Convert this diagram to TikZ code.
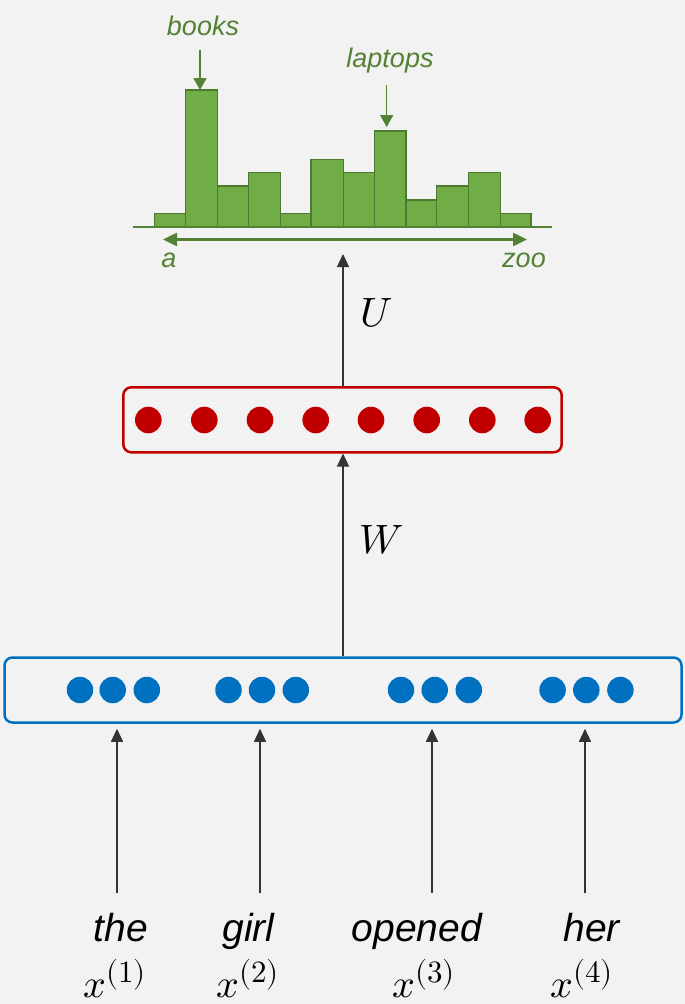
\documentclass[tikz,border=0pt]{standalone}
\usepackage{fontspec}
\usepackage{unicode-math}
\setmainfont{Liberation Sans}
\setmathfont{Latin Modern Math}
\DeclareMathSizes{40}{40}{31}{25}
\usetikzlibrary{arrows.meta}
\definecolor{bg}{HTML}{F2F2F2}
\definecolor{hgreen}{HTML}{548235}
\definecolor{barfill}{HTML}{70AD47}
\definecolor{barline}{HTML}{4E7A30}
\definecolor{hred}{HTML}{C00000}
\definecolor{hblue}{HTML}{0070C0}
\begin{document}
\begin{tikzpicture}[x=1pt,y=-1pt,
  word/.style={font=\fontsize{39}{47}\selectfont\itshape, anchor=base, inner sep=0pt},
  glab/.style={font=\fontsize{27}{32}\selectfont\itshape, text=hgreen, anchor=base, inner sep=0pt},
  mlab/.style={font=\fontsize{41}{49}\selectfont, anchor=base, inner sep=0pt},
  xlab/.style={font=\fontsize{40}{48}\selectfont, anchor=base, inner sep=0pt},
  arr/.style={-{Triangle[length=13pt,width=12pt]}, line width=1.3pt, draw=black!80},
  garr/.style={-{Triangle[length=12pt,width=13pt]}, line width=1.5pt, draw=hgreen, fill=hgreen},
  dgarr/.style={{Triangle[length=14pt,width=13pt]}-{Triangle[length=14pt,width=13pt]}, line width=2.5pt, draw=hgreen, fill=hgreen},
  bar/.style={fill=barfill, draw=barline, line width=1.4pt},
  rdot/.style={circle, fill=hred, minimum size=26.6pt, inner sep=0pt},
  bdot/.style={circle, fill=hblue, minimum size=26.5pt, inner sep=0pt},
  layerbox/.style={draw, line width=2.5pt, rounded corners=8pt, inner sep=0pt}
]
\useasboundingbox (0,0) rectangle (685,1004);
\fill[bg] (0,0) rectangle (685,1004);

% histogram
\foreach \a/\b/\t in {154.3/185.3/213.3,185.3/217.3/90,217.3/248.3/186,248.3/280.7/172.3,
  280.7/311/213.3,311/343.3/159.3,343.3/374.3/172.3,374.3/406/131,406/436.7/200,
  436.7/468.3/186,468.3/500.7/172.3,500.7/531/213.3}
  \draw[bar] (\a,227) rectangle (\b,\t);
\draw[hgreen, line width=2.8pt] (133,227) -- (552,227);
\coordinate (axl) at (163,239.5);
\coordinate (axr) at (527,239.5);
\draw[dgarr] (axl) -- (axr);
\node[glab] (la) at (169,267) {a};
\node[glab] (lzoo) at (524,267) {zoo};
\node[glab] (lbooks) at (203,35) {books};
\node[glab] (llaptops) at (390,67) {laptops};
\coordinate (bk1) at (200,50);
\coordinate (bk2) at (200,90);
\coordinate (lp1) at (386.7,85);
\coordinate (lp2) at (386.7,127);
\draw[garr] (bk1) -- (bk2);
\draw[garr] (lp1) -- (lp2);

% hidden layer
\node[layerbox, draw=hred, minimum width=438.4pt, minimum height=65pt] (red) at (342.5,419.8) {};
\foreach \i/\x in {1/148.3,2/204.3,3/260,4/315.7,5/371,6/426.7,7/482.3,8/537.7}
  \node[rdot] (r\i) at (\x,420) {};

% embedding layer
\node[layerbox, draw=hblue, minimum width=677pt, minimum height=65pt] (blue) at (343,690) {};
\foreach \i/\x in {1/80,2/112.7,3/146.8,4/228.5,5/262,6/295.8,7/401,8/434.7,9/468.8,10/552.6,11/586.3,12/620.4}
  \node[bdot] (b\i) at (\x,690) {};

% vertical arrows
\coordinate (utip) at (343,254);
\draw[arr] (red.north -| utip) -- (utip);
\draw[arr] (blue.north -| utip) -- (red.south -| utip);
\node[mlab] (U) at (376.5,326) {$U$};
\node[mlab] (W) at (381.5,553) {$W$};

% words
\node[word] (w1) at (120.6,941.7) {the};
\node[word] (w2) at (248.5,941.7) {girl};
\node[word] (w3) at (417,941.7) {opened};
\node[word] (w4) at (591.8,941.7) {her};
\node[xlab] (x1) at (115,997) {$x^{(1)}$};
\node[xlab] (x2) at (248,997) {$x^{(2)}$};
\node[xlab] (x3) at (424,997) {$x^{(3)}$};
\node[xlab] (x4) at (582,997) {$x^{(4)}$};
\foreach \i/\x in {1/117,2/260,3/432,4/585}{
  \coordinate (s\i) at (\x,893);
  \draw[arr, shorten >=5pt] (s\i) -- (s\i |- blue.south);
}
\end{tikzpicture}
\end{document}
